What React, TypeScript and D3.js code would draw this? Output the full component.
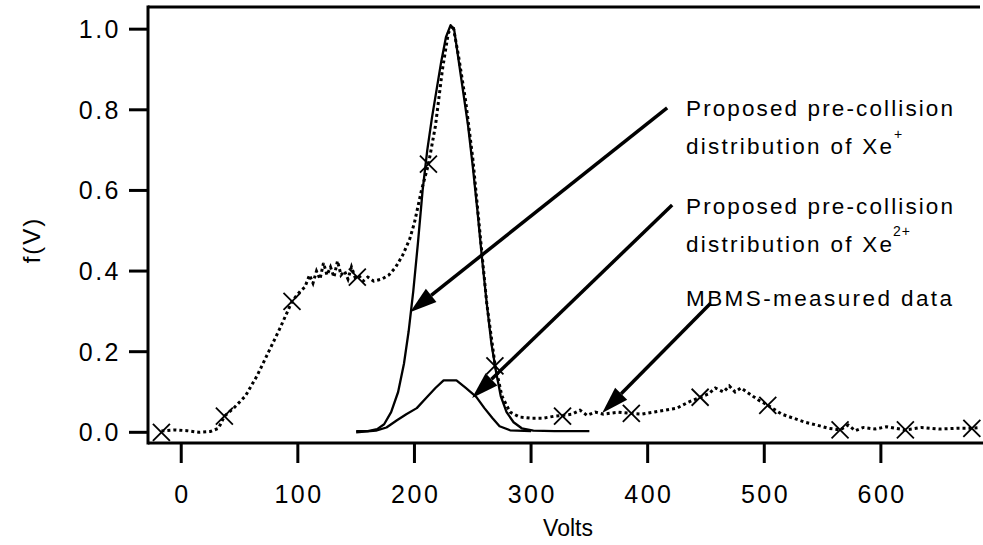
import React from "react";
import * as d3 from "d3";

// Measured MBMS data (Volts, f(V))
const measuredV = [-17, -5, 5, 15, 25, 32, 37, 45, 55, 65, 75, 85, 95, 102, 106, 110, 113, 116, 119, 122, 125, 128, 131, 134, 137, 140, 143, 146, 149, 152, 156, 160, 165, 172, 178, 184, 190, 196, 200, 206, 212, 218, 224, 229, 233, 238, 244, 250, 256, 262, 269, 275, 282, 290, 300, 310, 320, 327, 335, 342, 348, 355, 362, 375, 386, 395, 405, 415, 425, 435, 445, 452, 458, 465, 470, 475, 480, 485, 495, 503, 515, 525, 535, 545, 555, 565, 572, 578, 585, 595, 605, 621, 635, 650, 665, 678, 685];
const measuredF = [0.003, 0.006, 0.004, 0.0, 0.002, 0.01, 0.04, 0.06, 0.09, 0.14, 0.2, 0.26, 0.325, 0.35, 0.36, 0.39, 0.37, 0.4, 0.38, 0.42, 0.39, 0.41, 0.385, 0.425, 0.39, 0.4, 0.38, 0.41, 0.385, 0.39, 0.375, 0.385, 0.375, 0.38, 0.39, 0.41, 0.44, 0.48, 0.52, 0.6, 0.665, 0.76, 0.9, 0.99, 1.01, 0.93, 0.82, 0.68, 0.5, 0.32, 0.17, 0.09, 0.05, 0.038, 0.035, 0.035, 0.04, 0.042, 0.045, 0.055, 0.042, 0.05, 0.045, 0.05, 0.047, 0.045, 0.05, 0.055, 0.06, 0.075, 0.087, 0.095, 0.11, 0.1, 0.115, 0.1, 0.11, 0.1, 0.08, 0.067, 0.045, 0.035, 0.025, 0.018, 0.01, 0.006, 0.018, 0.004, 0.012, 0.008, 0.014, 0.006, 0.012, 0.008, 0.01, 0.01, 0.012];

// Marker positions on measured data
const markerV = [-17, 37, 95, 151, 212, 269, 327, 386, 445, 503, 565, 621, 678];
const markerF = [0.0, 0.04, 0.325, 0.385, 0.665, 0.165, 0.04, 0.047, 0.087, 0.067, 0.006, 0.006, 0.01];

// Proposed Xe+ distribution
const xe1V = [150, 160, 168, 174, 180, 186, 191, 195, 199, 203, 207, 211, 215, 219, 223, 227, 231, 234, 238, 242, 246, 250, 254, 258, 262, 266, 270, 274, 279, 285, 292, 302, 320, 350];
const xe1F = [0.003, 0.003, 0.008, 0.02, 0.05, 0.1, 0.17, 0.25, 0.35, 0.47, 0.6, 0.7, 0.78, 0.85, 0.92, 0.98, 1.01, 1.0, 0.92, 0.84, 0.76, 0.66, 0.55, 0.43, 0.32, 0.22, 0.15, 0.09, 0.05, 0.025, 0.01, 0.004, 0.003, 0.003];

// Proposed Xe2+ distribution
const xe2V = [150, 167, 176, 185, 193, 202, 210, 218, 225, 236, 244, 253, 260, 267, 273, 282, 300];
const xe2F = [0.0, 0.004, 0.012, 0.03, 0.045, 0.06, 0.085, 0.11, 0.129, 0.129, 0.11, 0.088, 0.06, 0.035, 0.015, 0.005, 0.003];

// Axis ticks
const xTicks = [0, 100, 200, 300, 400, 500, 600];
const yTicks = [0.0, 0.2, 0.4, 0.6, 0.8, 1.0];

// Annotation arrows: tail and tip in data units
const arrowTailV = [416.7, 421, 454];
const arrowTailF = [0.805, 0.564, 0.32];
const arrowTipV = [196.2, 249.4, 361];
const arrowTipF = [0.298, 0.085, 0.048];

const W = 983;
const H = 545;
const left = 148, right = 980, top = 7, bottom = 443;
const FONT = "'Liberation Sans', Arial, Helvetica, sans-serif";

export default function App() {
  const x = d3.scaleLinear().domain([-28.5, 685]).range([left, right]);
  const y = d3.scaleLinear().domain([-0.0265, 1.055]).range([bottom, top]);

  const line = d3
    .line<[number, number]>()
    .x((d) => x(d[0]))
    .y((d) => y(d[1]));

  const measured = measuredV.map((v, i) => [v, measuredF[i]] as [number, number]);
  const xe1 = xe1V.map((v, i) => [v, xe1F[i]] as [number, number]);
  const xe2 = xe2V.map((v, i) => [v, xe2F[i]] as [number, number]);

  const ms = 8.5;

  const arrows = arrowTailV.map((tv, i) => {
    const x1 = x(tv), y1 = y(arrowTailF[i]);
    const x2 = x(arrowTipV[i]), y2 = y(arrowTipF[i]);
    const dx = x2 - x1, dy = y2 - y1;
    const len = Math.sqrt(dx * dx + dy * dy);
    const ux = dx / len, uy = dy / len;
    const hl = 27, hw = 8.5;
    const bx = x2 - ux * hl, by = y2 - uy * hl;
    const pts = [
      [x2, y2],
      [bx - uy * hw, by + ux * hw],
      [bx + uy * hw, by - ux * hw],
    ];
    return { x1, y1, bx, by, pts };
  });

  return (
    <svg
      width={W}
      height={H}
      style={{ position: "absolute", left: 0, top: 0, background: "#fff" }}
      fontFamily={FONT}
    >
      <rect x={0} y={0} width={W} height={H} fill="#fff" />
      {/* frame */}
      <line x1={left} x2={right} y1={top} y2={top} stroke="#000" strokeWidth={3} />
      <line x1={left} x2={left} y1={top - 1.5} y2={bottom + 1.5} stroke="#000" strokeWidth={3} />
      <line x1={left} x2={W} y1={bottom} y2={bottom} stroke="#000" strokeWidth={3} />

      {/* y ticks */}
      {yTicks.map((t) => (
        <g key={"y" + t}>
          <line x1={left - 19} x2={left} y1={y(t)} y2={y(t)} stroke="#000" strokeWidth={3} />
          <text
            x={121}
            y={y(t) + 9}
            fontSize={25}
            textAnchor="end"
            letterSpacing={2.5}
            fill="#000"
          >
            {d3.format(".1f")(t)}
          </text>
        </g>
      ))}

      {/* x ticks */}
      {xTicks.map((t) => (
        <g key={"x" + t}>
          <line x1={x(t)} x2={x(t)} y1={bottom} y2={bottom + 20} stroke="#000" strokeWidth={3} />
          <text
            x={x(t) + 1.25}
            y={503}
            fontSize={25}
            textAnchor="middle"
            letterSpacing={2.5}
            fill="#000"
          >
            {String(t)}
          </text>
        </g>
      ))}

      {/* axis titles */}
      <text x={568} y={536} fontSize={23} textAnchor="middle" fill="#000">
        Volts
      </text>
      <text
        transform={`translate(40,240) rotate(-90)`}
        fontSize={24}
        textAnchor="middle"
        letterSpacing={2}
        fill="#000"
      >
        f(V)
      </text>

      {/* measured data */}
      <path
        d={line(measured) || ""}
        fill="none"
        stroke="#000"
        strokeWidth={3}
        strokeDasharray="3 3"
      />
      {/* proposed distributions */}
      <path d={line(xe1) || ""} fill="none" stroke="#000" strokeWidth={2.3} strokeLinejoin="round" />
      <path d={line(xe2) || ""} fill="none" stroke="#000" strokeWidth={2.3} strokeLinejoin="round" />

      {/* markers */}
      {markerV.map((v, i) => {
        const cx = x(v), cy = y(markerF[i]);
        return (
          <g key={"m" + i} stroke="#000" strokeWidth={1.8}>
            <line x1={cx - ms} y1={cy - ms} x2={cx + ms} y2={cy + ms} />
            <line x1={cx - ms} y1={cy + ms} x2={cx + ms} y2={cy - ms} />
          </g>
        );
      })}

      {/* arrows */}
      {arrows.map((a, i) => (
        <g key={"a" + i}>
          <line x1={a.x1} y1={a.y1} x2={a.bx} y2={a.by} stroke="#000" strokeWidth={3.5} />
          <polygon points={a.pts.map((p) => p.join(",")).join(" ")} fill="#000" />
        </g>
      ))}

      {/* annotations */}
      <g fontSize={22.5} fill="#000">
        <text x={686} y={116} textLength={267} lengthAdjust="spacing">
          Proposed pre-collision
        </text>
        <text x={686} y={154} textLength={206} lengthAdjust="spacing">
          distribution of Xe
        </text>
        <text x={894} y={139} fontSize={14}>+</text>
        <text x={686} y={214} textLength={267} lengthAdjust="spacing">
          Proposed pre-collision
        </text>
        <text x={686} y={252} textLength={206} lengthAdjust="spacing">
          distribution of Xe
        </text>
        <text x={893} y={236} fontSize={14} letterSpacing={1}>2+</text>
        <text x={686} y={306} textLength={266} lengthAdjust="spacing">
          MBMS-measured data
        </text>
      </g>
    </svg>
  );
}
